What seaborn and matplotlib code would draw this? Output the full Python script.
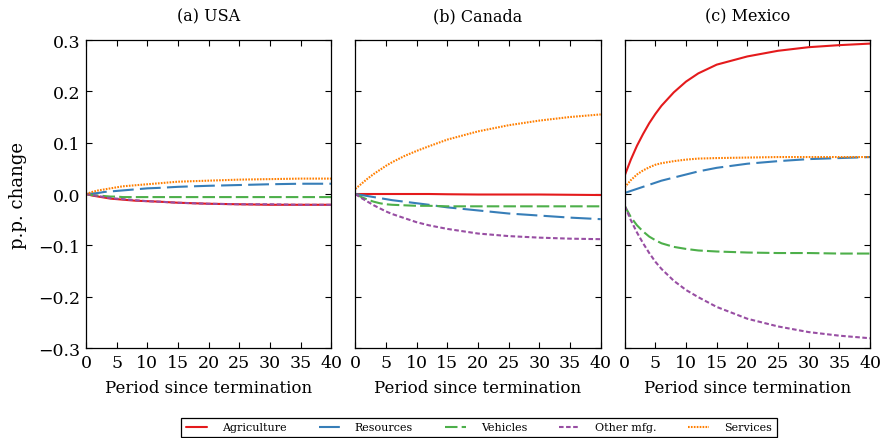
import matplotlib
matplotlib.use("Agg")
import matplotlib.pyplot as plt
import matplotlib.ticker as mticker
import seaborn as sns
import pandas as pd

# Periods after termination at which each response is recorded
periods = [0, 1, 2, 3, 4, 5, 6, 8, 10, 12, 15, 20, 25, 30, 35, 40]

sectors = ["Agriculture", "Resources", "Vehicles", "Other mfg.", "Services"]
countries = ["USA", "Canada", "Mexico"]
panel_titles = ["(a) USA", "(b) Canada", "(c) Mexico"]

# Percentage-point change in sector shares, USA
usa_agriculture = [0, -0.003, -0.005, -0.007, -0.009, -0.010, -0.011, -0.013, -0.014, -0.015, -0.017, -0.019, -0.020, -0.021, -0.021, -0.021]
usa_resources = [0, 0.001, 0.002, 0.004, 0.005, 0.006, 0.007, 0.009, 0.011, 0.012, 0.014, 0.016, 0.0175, 0.019, 0.020, 0.020]
usa_vehicles = [0, -0.002, -0.003, -0.004, -0.005, -0.005, -0.006, -0.006, -0.006, -0.006, -0.006, -0.006, -0.006, -0.006, -0.006, -0.006]
usa_other_mfg = [0, -0.002, -0.004, -0.006, -0.008, -0.009, -0.010, -0.012, -0.014, -0.015, -0.017, -0.019, -0.020, -0.020, -0.021, -0.021]
usa_services = [0, 0.004, 0.007, 0.009, 0.011, 0.013, 0.015, 0.017, 0.019, 0.021, 0.024, 0.026, 0.028, 0.029, 0.030, 0.030]

# Canada
can_agriculture = [0, 0, 0, 0, 0, 0, 0, 0, 0, 0, -0.0005, -0.001, -0.001, -0.001, -0.0015, -0.002]
can_resources = [0, -0.002, -0.004, -0.006, -0.008, -0.010, -0.012, -0.015, -0.018, -0.021, -0.026, -0.032, -0.038, -0.042, -0.046, -0.049]
can_vehicles = [0, -0.006, -0.011, -0.015, -0.018, -0.020, -0.021, -0.022, -0.023, -0.023, -0.024, -0.024, -0.024, -0.024, -0.024, -0.024]
can_other_mfg = [0, -0.008, -0.015, -0.022, -0.028, -0.034, -0.039, -0.047, -0.055, -0.061, -0.068, -0.077, -0.082, -0.085, -0.087, -0.088]
can_services = [0.010, 0.020, 0.030, 0.039, 0.047, 0.055, 0.062, 0.074, 0.084, 0.093, 0.106, 0.122, 0.134, 0.143, 0.150, 0.155]

# Mexico
mex_agriculture = [0.036, 0.067, 0.094, 0.117, 0.138, 0.156, 0.172, 0.198, 0.219, 0.235, 0.252, 0.268, 0.279, 0.286, 0.290, 0.293]
mex_resources = [0.002, 0.006, 0.010, 0.014, 0.018, 0.022, 0.026, 0.032, 0.038, 0.044, 0.051, 0.059, 0.064, 0.068, 0.070, 0.072]
mex_vehicles = [-0.023, -0.045, -0.061, -0.073, -0.083, -0.090, -0.096, -0.103, -0.107, -0.110, -0.112, -0.114, -0.115, -0.115, -0.116, -0.116]
mex_other_mfg = [-0.023, -0.051, -0.075, -0.096, -0.115, -0.132, -0.146, -0.169, -0.187, -0.201, -0.220, -0.243, -0.258, -0.269, -0.276, -0.281]
mex_services = [0.013, 0.027, 0.038, 0.046, 0.052, 0.057, 0.060, 0.064, 0.067, 0.069, 0.070, 0.071, 0.072, 0.072, 0.072, 0.072]

x_ticks = [0, 5, 10, 15, 20, 25, 30, 35, 40]
y_ticks = [-0.3, -0.2, -0.1, 0.0, 0.1, 0.2, 0.3]

series = {
    "USA": [usa_agriculture, usa_resources, usa_vehicles, usa_other_mfg, usa_services],
    "Canada": [can_agriculture, can_resources, can_vehicles, can_other_mfg, can_services],
    "Mexico": [mex_agriculture, mex_resources, mex_vehicles, mex_other_mfg, mex_services],
}

rows = []
for c in countries:
    for s, vals in zip(sectors, series[c]):
        for t, v in zip(periods, vals):
            rows.append({"country": c, "sector": s, "period": t, "change": v})
df = pd.DataFrame(rows)

sns.set_style("ticks")
plt.rcParams["font.family"] = ["DejaVu Serif"]
for key in ("text.color", "axes.labelcolor", "xtick.color", "ytick.color", "axes.edgecolor"):
    plt.rcParams[key] = "black"

palette = sns.color_palette("Set1", 5)
colors = dict(zip(sectors, palette))
styles = {
    "Agriculture": "-",
    "Resources": (0, (10, 3)),
    "Vehicles": (0, (6, 2)),
    "Other mfg.": (0, (2.2, 1.2)),
    "Services": (0, (0.8, 0.6)),
}

fig, axes = plt.subplots(1, 3, figsize=(8.83, 4.39), dpi=100, sharey=True)
fig.subplots_adjust(left=0.0974, right=0.9853, top=0.9066, bottom=0.205, wspace=0.098)


def signed(v, pos):
    return f"{v:.1f}".replace("-", "\u2212")


for ax, c, title in zip(axes, countries, panel_titles):
    sub = df[df["country"] == c]
    for s in sectors:
        d = sub[sub["sector"] == s]
        sns.lineplot(data=d, x="period", y="change", ax=ax, color=colors[s],
                     linestyle=styles[s], linewidth=1.5, label=s, legend=False)
    ax.set_xlim(0, 40)
    ax.set_ylim(-0.3, 0.3)
    ax.set_xticks(x_ticks)
    ax.set_yticks(y_ticks)
    ax.set_title(title, fontsize=11.5, pad=14)
    ax.set_xlabel("Period since termination", fontsize=12, labelpad=6)
    ax.set_ylabel("")
    ax.tick_params(direction="in", top=True, right=True, length=4, width=0.8,
                   labelsize=12.5, pad=4)
    for sp in ax.spines.values():
        sp.set_linewidth(0.9)
        sp.set_color("black")

axes[0].set_ylabel("p.p. change", fontsize=13, labelpad=8)
axes[0].yaxis.set_major_formatter(mticker.FuncFormatter(signed))

handles, labels = axes[0].get_legend_handles_labels()
leg = fig.legend(handles, labels, loc="center", bbox_to_anchor=(0.5425, 0.024),
                 ncol=5, fontsize=8, frameon=True, fancybox=False,
                 edgecolor="black", framealpha=1, handlelength=1.9,
                 columnspacing=2.85, handletextpad=1.35, borderpad=0.42)
leg.get_frame().set_linewidth(0.9)

fig.savefig("out.png", dpi=100)
